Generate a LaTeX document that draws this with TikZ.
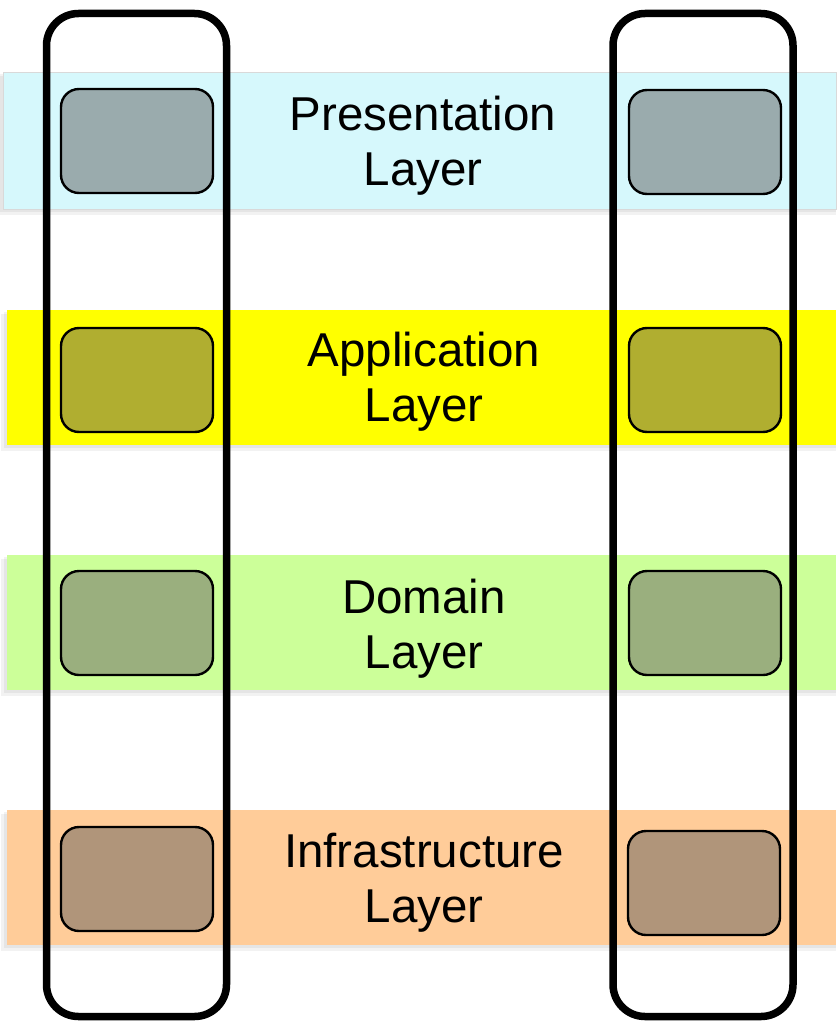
\documentclass[tikz,border=0pt]{standalone}
\usepackage{fontspec}
\setmainfont{Liberation Sans}
\begin{document}
\begin{tikzpicture}[x=1pt,y=-1pt]
\tikzset{
  band/.style={draw=none, rectangle, anchor=north west, inner sep=0pt, outer sep=0pt},
  bandshadow/.style={fill=black, opacity=0.05, draw=none},
  layerbox/.style={draw=black, line width=2.4pt, rounded corners=18pt, rectangle, anchor=north west, inner sep=0pt, outer sep=0pt, minimum width=152pt, minimum height=104pt},
  column/.style={draw=black, line width=7.5pt, rounded corners=32pt, rectangle, anchor=north west, inner sep=0pt, outer sep=0pt, minimum width=180pt, minimum height=1003pt},
  label/.style={font=\fontsize{47.5}{55}\selectfont, align=center, text=black}
}
\definecolor{presC}{HTML}{D6F8FC}
\definecolor{appC}{HTML}{FFFF00}
\definecolor{domC}{HTML}{CCFF99}
\definecolor{infC}{HTML}{FFCC99}
\definecolor{presB}{HTML}{9AABAD}
\definecolor{appB}{HTML}{B0AE30}
\definecolor{domB}{HTML}{9AAF7E}
\definecolor{infB}{HTML}{B0957A}
\useasboundingbox (0,0) rectangle (836,1022);
\fill[white] (0,0) rectangle (836,1022);
% shadows
\foreach \t/\b/\l in {72/209/3,310/445/7,555/690/7,810/945/7}{
  \fill[bandshadow] (\l-6,\t+4) rectangle (836,\b+6);
  \fill[bandshadow] (\l-3,\t+2) rectangle (836,\b+3);
}
% bands
\node[band, fill=presC, minimum width=833pt, minimum height=137pt, draw=black!15, line width=0.6pt] (bpres) at (3,72) {};
\node[band, fill=appC, minimum width=829pt, minimum height=135pt] (bapp) at (7,310) {};
\node[band, fill=domC, minimum width=829pt, minimum height=135pt] (bdom) at (7,555) {};
\node[band, fill=infC, minimum width=829pt, minimum height=135pt] (binf) at (7,810) {};
% labels
\node[label] (tpres) at (423,146) {Presentation\\Layer};
\node[label] (tapp) at (424,382) {Application\\Layer};
\node[label] (tdom) at (424,629) {Domain\\Layer};
\node[label] (tinf) at (424,883) {Infrastructure\\Layer};
% boxes
\node[layerbox, fill=presB] (lp) at (61,89) {};
\node[layerbox, fill=appB] (la) at (61,328) {};
\node[layerbox, fill=domB] (ld) at (61,571) {};
\node[layerbox, fill=infB] (li) at (61,827) {};
\node[layerbox, fill=presB] (rp) at (629,90) {};
\node[layerbox, fill=appB] (ra) at (629,328) {};
\node[layerbox, fill=domB] (rd) at (629,571) {};
\node[layerbox, fill=infB] (ri) at (628,831) {};
% columns
\node[column] (cl) at (46.5,13.5) {};
\node[column] (cr) at (613,13.5) {};
\end{tikzpicture}
\end{document}
